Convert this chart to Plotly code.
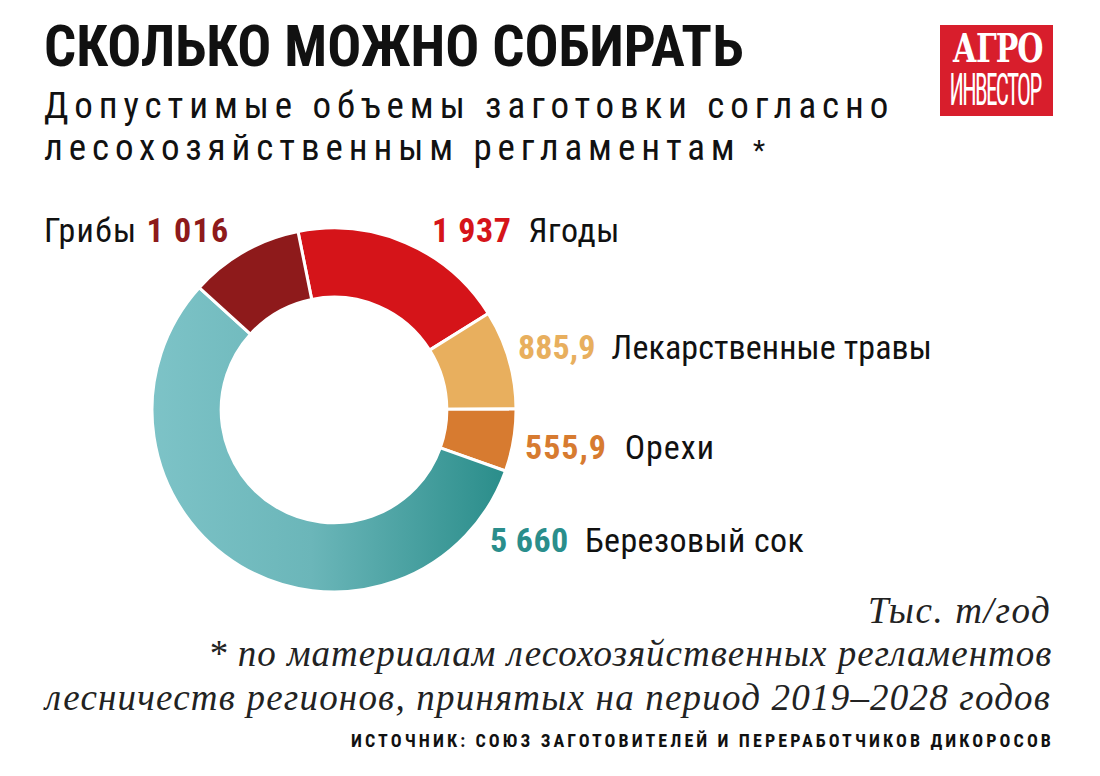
import plotly.graph_objects as go

# Data (thousand tonnes per year), clockwise from top
categories = ["Ягоды", "Лекарственные травы", "Орехи", "Березовый сок", "Грибы"]
values = [1937, 885.9, 555.9, 5660, 1016]
value_labels = ["1 937", "885,9", "555,9", "5 660", "1 016"]
colors = ["#D51419", "#E8AF5E", "#D77B30", "#55A9AA", "#8E1A1B"]
label_colors = ["#D51419", "#E8AF5E", "#D77B30", "#2A8E8C", "#8E1A1B"]

W, H = 1100, 776
COND = "Roboto Condensed"
SERIF = "Liberation Serif"

CX, CY, R = 334, 410, 182

fig = go.Figure()
fig.add_trace(go.Pie(
    labels=categories, values=values, sort=False, direction="clockwise",
    rotation=-11.4, hole=0.62, textinfo="none", hoverinfo="label+value",
    marker=dict(colors=colors, line=dict(color="white", width=3)),
    domain=dict(x=[(CX - R) / W, (CX + R) / W],
                y=[(H - CY - R) / H, (H - CY + R) / H]),
    showlegend=False,
))

ann = []


def txt(text, x, y, size, color="#111111", family=COND, xanchor="left", ls=None):
    if ls is not None:
        text = f'<span style="letter-spacing:{ls}px">{text}</span>'
    ann.append(dict(text=text, x=x / W, y=1 - y / H, xref="paper", yref="paper",
                    xanchor=xanchor, yanchor="middle", showarrow=False,
                    font=dict(size=size, color=color, family=family)))


# Title and subtitle
txt("<b>СКОЛЬКО МОЖНО СОБИРАТЬ</b>", 42, 47, 56.5, "#111111")
txt("Допустимые объемы заготовки согласно", 42, 106, 37, "#111111", ls=5.9)
txt("лесохозяйственным регламентам<span style='font-size:28px'> *</span>", 42, 147, 37, "#111111", ls=5.9)

# Slice labels
txt("Грибы " + f'<b><span style="color:{label_colors[4]}">{value_labels[4]}</span></b>', 42, 230, 34, ls=1.3)
txt(f'<b><span style="color:{label_colors[0]}">{value_labels[0]}</span></b>  ' + categories[0], 430, 230, 34, ls=0.6)
txt(f'<b><span style="color:{label_colors[1]}">{value_labels[1]}</span></b>  ' + categories[1], 516, 347, 34, ls=0.1)
txt(f'<b><span style="color:{label_colors[2]}">{value_labels[2]}</span></b>  ' + categories[2], 523, 447, 34, ls=1.0)
txt(f'<b><span style="color:{label_colors[3]}">{value_labels[3]}</span></b>  ' + categories[3], 488, 540, 34, ls=0.4)

# Footer
txt("<i>Тыс. т/год</i>", 1053, 610, 37, "#222222", SERIF, "right", ls=1.6)
txt("<i>* по материалам лесохозяйственных регламентов</i>", 1054, 653, 37, "#222222", SERIF, "right", ls=1.0)
txt("<i>лесничеств регионов, принятых на период 2019–2028 годов</i>", 1053, 697, 37, "#222222", SERIF, "right", ls=1.2)
txt("<b>ИСТОЧНИК: СОЮЗ ЗАГОТОВИТЕЛЕЙ И ПЕРЕРАБОТЧИКОВ ДИКОРОСОВ</b>", 1056, 740, 18, "#111111", COND, "right", ls=3.1)

# Logo
fig.add_shape(type="rect", xref="paper", yref="paper",
              x0=940 / W, x1=1053 / W, y0=1 - 25 / H, y1=1 - 116 / H,
              fillcolor="#D81E2C", line=dict(width=0), layer="below")
txt("<b>АГРО</b>", 997, 48, 31, "white", "DejaVu Serif", "center", ls=-1)
txt("ИНВЕСТОР", 996, 89, 25, "white", COND, "center", ls=-1.8)

fig.update_layout(
    width=W, height=H, margin=dict(l=0, r=0, t=0, b=0),
    paper_bgcolor="white", plot_bgcolor="white", annotations=ann,
)

post = """
document.body.style.margin = '0';
var gd = document.getElementById('{plot_id}');
function applyGrad(){
  var svg = gd.querySelector('svg.main-svg');
  if(!svg) return;
  var ns = 'http://www.w3.org/2000/svg';
  var defs = svg.querySelector('defs');
  if(!defs){ defs = document.createElementNS(ns,'defs'); svg.insertBefore(defs, svg.firstChild); }
  if(!svg.querySelector('#sokgrad')){
    var lg = document.createElementNS(ns,'linearGradient');
    lg.setAttribute('id','sokgrad');
    lg.setAttribute('x1','0'); lg.setAttribute('y1','0');
    lg.setAttribute('x2','1'); lg.setAttribute('y2','0');
    [['0','#7DC3C7'],['0.45','#6BB6B9'],['1','#2A8D8A']].forEach(function(s){
      var st = document.createElementNS(ns,'stop');
      st.setAttribute('offset', s[0]); st.setAttribute('stop-color', s[1]);
      lg.appendChild(st);
    });
    defs.appendChild(lg);
  }
  var paths = gd.querySelectorAll('g.slice path.surface');
  if(paths.length > 3){ paths[3].style.fill = 'url(#sokgrad)'; }
  // stretch the logo lettering vertically
  gd.querySelectorAll('text.annotation-text').forEach(function(t){
    var s = t.textContent, sc = null;
    if(s === 'ИНВЕСТОР') sc = [0.93, 1.8];
    if(s === 'АГРО') sc = [0.97, 1.25];
    if(sc && !t.getAttribute('data-stretched')){
      var b = t.getBBox();
      var cx = b.x + b.width / 2, cy = b.y + b.height / 2;
      t.setAttribute('transform', 'translate(' + cx + ',' + cy + ') scale(' + sc[0] + ',' + sc[1] + ') translate(' + (-cx) + ',' + (-cy) + ')');
      t.setAttribute('data-stretched', '1');
    }
  });
}
applyGrad();
gd.on && gd.on('plotly_afterplot', applyGrad);
"""

fig.write_html("out.html", post_script=post, config={"displayModeBar": False})
